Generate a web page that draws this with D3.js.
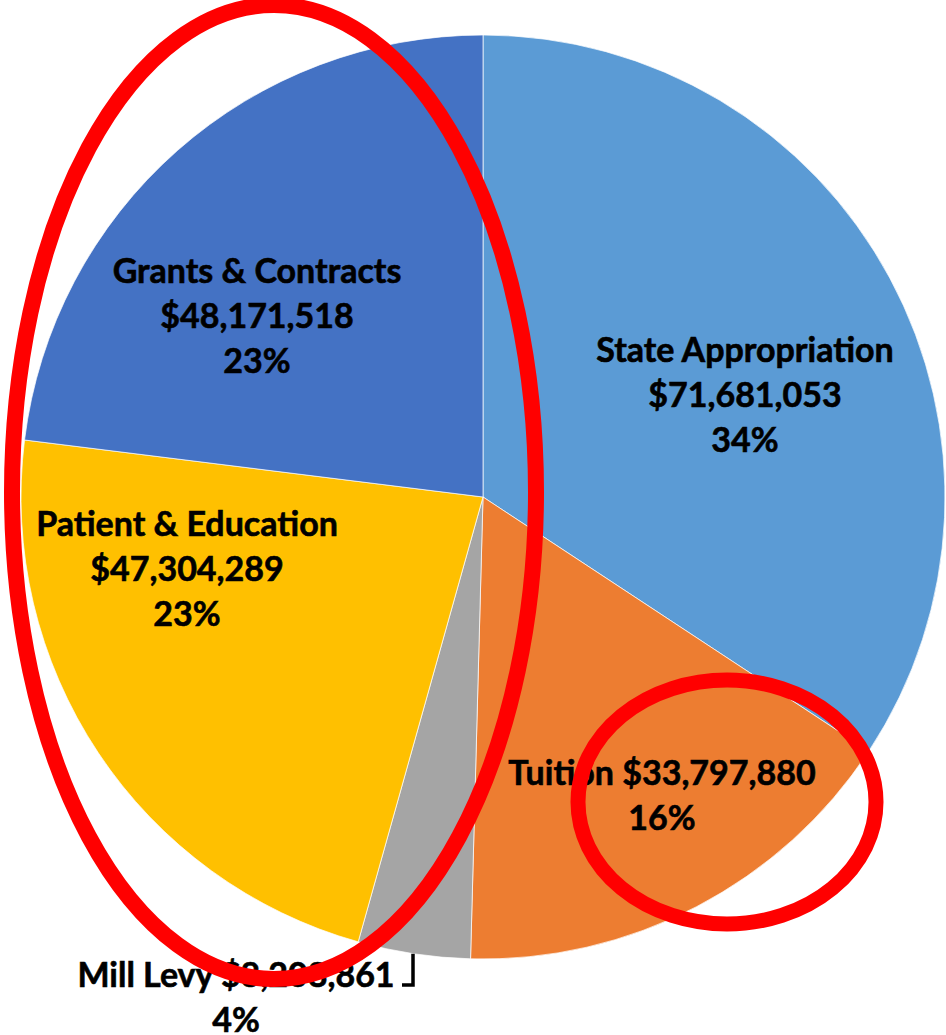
<!DOCTYPE html>
<html>
<head>
<meta charset="utf-8">
<script src="https://cdn.jsdelivr.net/npm/d3@7"></script>
<style>
  html, body { margin: 0; padding: 0; background: #fff; }
  svg { display: block; }
</style>
</head>
<body>
<svg id="chart" width="946" height="1035"></svg>
<script>
// data
const categories = ["State Appropriation", "Tuition", "Mill Levy", "Patient & Education", "Grants & Contracts"];
const amounts = [71681053, 33797880, 8208861, 47304289, 48171518];
const sliceColors = ["#5B9BD5", "#ED7D31", "#A5A5A5", "#FFC000", "#4472C4"];

// label layout (first baseline, centre x, whether name sits on its own line)
const labelLayout = [
    {x: 745, y: 362, own: true},
    {x: 662, y: 785, own: false},
    {x: 236, y: 987, own: false},
    {x: 187, y: 536, own: true},
    {x: 257, y: 283, own: true}
];

const width = 946, height = 1035;
const cx = 483, cy = 497, radius = 462;
const lineGap = 45;

const svg = d3.select("#chart");
const g = svg.append("g").attr("transform", `translate(${cx},${cy})`);

const total = d3.sum(amounts);
const money = d3.format("$,");
const pct = v => Math.round(v / total * 100) + "%";

const pie = d3.pie().sort(null).value(d => d);
const arc = d3.arc().innerRadius(0).outerRadius(radius);
const arcs = pie(amounts);

g.selectAll("path.slice")
    .data(arcs)
    .join("path")
    .attr("class", "slice")
    .attr("d", arc)
    .attr("fill", (d, i) => sliceColors[i])
    .attr("stroke", "#fff")
    .attr("stroke-width", 0.7);

// labels
const labels = svg.append("g")
    .attr("font-family", "Lato, 'Open Sans', sans-serif")
    .attr("font-weight", "bold")
    .attr("font-size", 34)
    .attr("fill", "#000")
    .attr("stroke", "#000")
    .attr("stroke-width", 0.6)
    .attr("text-anchor", "middle");

categories.forEach((name, i) => {
    const pos = labelLayout[i];
    const lines = pos.own
        ? [name, money(amounts[i]), pct(amounts[i])]
        : [name + " " + money(amounts[i]), pct(amounts[i])];
    lines.forEach((t, k) => {
        labels.append("text")
            .attr("x", pos.x)
            .attr("y", pos.y + k * lineGap)
            .text(t);
    });
});

// leader line for the small Mill Levy slice
const leaderX = 413;
const edgeY = cy + Math.sqrt(radius * radius - (leaderX - cx) * (leaderX - cx));
svg.append("path")
    .attr("d", d3.line()([[leaderX, edgeY], [leaderX, 985], [402, 985]]))
    .attr("fill", "none")
    .attr("stroke", "#000")
    .attr("stroke-width", 3.5);

// red hand annotations
svg.append("ellipse")
    .attr("cx", 274).attr("cy", 492)
    .attr("rx", 262).attr("ry", 487)
    .attr("fill", "none")
    .attr("stroke", "#FF0000")
    .attr("stroke-width", 16);

svg.append("ellipse")
    .attr("cx", 727).attr("cy", 802)
    .attr("rx", 149).attr("ry", 122)
    .attr("fill", "none")
    .attr("stroke", "#FF0000")
    .attr("stroke-width", 15);
</script>
</body>
</html>
